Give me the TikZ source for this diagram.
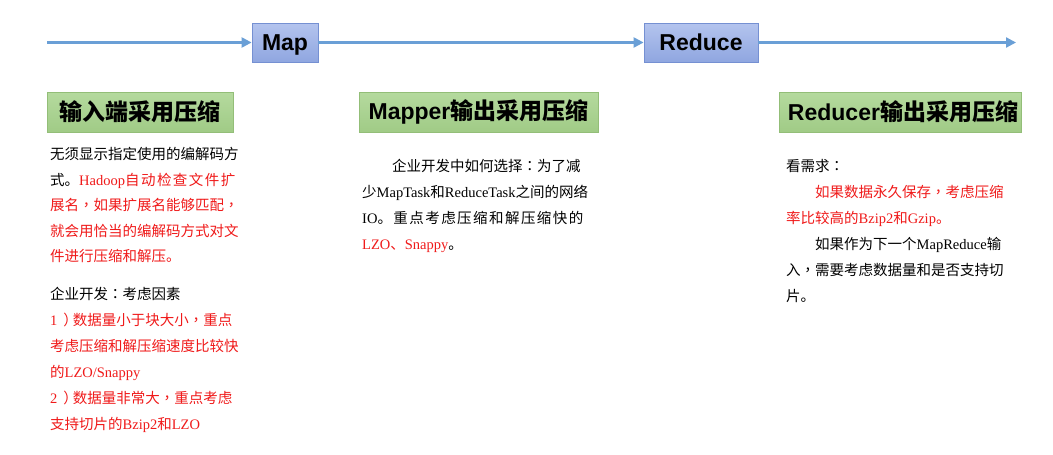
\documentclass[tikz,border=0pt]{standalone}
\usepackage{fontspec}
\setmainfont{Liberation Serif}
\newfontfamily\cn{Noto Sans CJK SC}
\newfontfamily\cnt{Noto Sans CJK TC}
\newfontfamily\cnls{Noto Sans CJK SC}[LetterSpace=10]
\newfontfamily\hd{Liberation Sans}
\usetikzlibrary{arrows.meta}
\definecolor{linecol}{HTML}{6A9FD6}
\definecolor{bluefillA}{HTML}{B4C4EE}
\definecolor{bluefillB}{HTML}{8FA6E0}
\definecolor{blueborder}{HTML}{7590D2}
\definecolor{greenA}{HTML}{B5DA9E}
\definecolor{greenB}{HTML}{A0CB86}
\definecolor{greenborder}{HTML}{93BE78}
\definecolor{txtred}{HTML}{F01A1A}
\newcommand\C[1]{{\cn #1}}
\newcommand\cm{{\cnt ，}}
\newcommand\co{{\cnt ：}}
\newcommand\cp{\hspace{6pt}{\cn ）}\hspace{-5pt}}
\newcommand\Rd[1]{\textcolor{txtred}{#1}}
\begin{document}
\begin{tikzpicture}[x=1pt,y=-1pt,
  stage/.style={draw=blueborder, line width=0.8pt, top color=bluefillA, bottom color=bluefillB,
    minimum height=39pt, inner sep=0pt, text height=16.6pt, text depth=0pt,
    font=\fontsize{23}{23}\selectfont\hd\bfseries},
  head/.style={draw=greenborder, line width=0.8pt, top color=greenA, bottom color=greenB,
    minimum height=40pt, inner sep=0pt, font=\fontsize{23}{23}\selectfont\hd\bfseries},
  flow/.style={draw=linecol, line width=2.2pt, -{Triangle[length=10pt,width=10pt]}},
  body/.style={anchor=base west, inner sep=0pt, font=\fontsize{14.5}{14.5}\selectfont}]
\useasboundingbox[fill=white] (0,0) rectangle (1053,455);

% flow line
\coordinate (start) at (47,42.5);
\coordinate (end) at (1016,42.5);
\node[stage, minimum width=66pt] (map) at (285,42.5) {Map};
\node[stage, minimum width=114pt] (reduce) at (701,42.5) {Reduce};
\draw[flow] (start) -- (map);
\draw[flow] (map) -- (reduce);
\draw[flow] (reduce) -- (end);

% headers
\node[head, minimum width=186pt] (h1) at (140,112) {\cn 输入端采用压缩};
\node[head, minimum width=239pt] (h2) at (478.5,112) {Mapper{\cn 输出采用压缩}};
\node[head, minimum width=242pt] (h3) at (900,112) {\hspace{6pt}Reducer{\cn 输出采用压缩}};

% left column
\node[body] (l1) at (50,159.5) {\C{无须显示指定使用的编解码方}};
\node[body] (l2) at (50,185) {\C{式。}\Rd{ Hadoop{\cnls 自动检查文件扩}}};
\node[body] (l3) at (50,210.5) {\Rd{\C{展名}\cm\C{如果扩展名能够匹配}\cm}};
\node[body] (l4) at (50,236) {\Rd{\C{就会用恰当的编解码方式对文}}};
\node[body] (l5) at (50,261.5) {\Rd{\C{件进行压缩和解压。}}};
\node[body] (l6) at (50,299) {\C{企业开发}\co\C{考虑因素}};
\node[body] (l7) at (50,325) {\Rd{1\cp\C{数据量小于块大小}\cm\C{重点}}};
\node[body] (l8) at (50,351) {\Rd{\C{考虑压缩和解压缩速度比较快}}};
\node[body] (l9) at (50,377) {\Rd{\C{的}LZO/Snappy}};
\node[body] (l10) at (50,403) {\Rd{2\cp\C{数据量非常大}\cm\C{重点考虑}}};
\node[body] (l11) at (50,429) {\Rd{\C{支持切片的}Bzip2\C{和}LZO}};

% middle column
\node[body] (m1) at (392,171.5) {\C{企业开发中如何选择}\co\C{为了减}};
\node[body] (m2) at (362,197.5) {\C{少}MapTask\C{和}ReduceTask\C{之间的网络}};
\node[body] (m3) at (362,223.5) {IO{\cnls 。重点考虑压缩和解压缩快的}};
\node[body] (m4) at (362,249.5) {\Rd{LZO\C{、}Snappy}\C{。}};

% right column
\node[body] (r1) at (786,171.5) {\C{看需求}\co};
\node[body] (r2) at (815,197.5) {\Rd{\C{如果数据永久保存}\cm\C{考虑压缩}}};
\node[body] (r3) at (786,223.5) {\Rd{\C{率比较高的}Bzip2\C{和}Gzip\C{。}}};
\node[body] (r4) at (815,249.5) {\C{如果作为下一个}MapReduce\C{输}};
\node[body] (r5) at (786,275.5) {\C{入}\cm\C{需要考虑数据量和是否支持切}};
\node[body] (r6) at (786,301.5) {\C{片。}};
\end{tikzpicture}
\end{document}
